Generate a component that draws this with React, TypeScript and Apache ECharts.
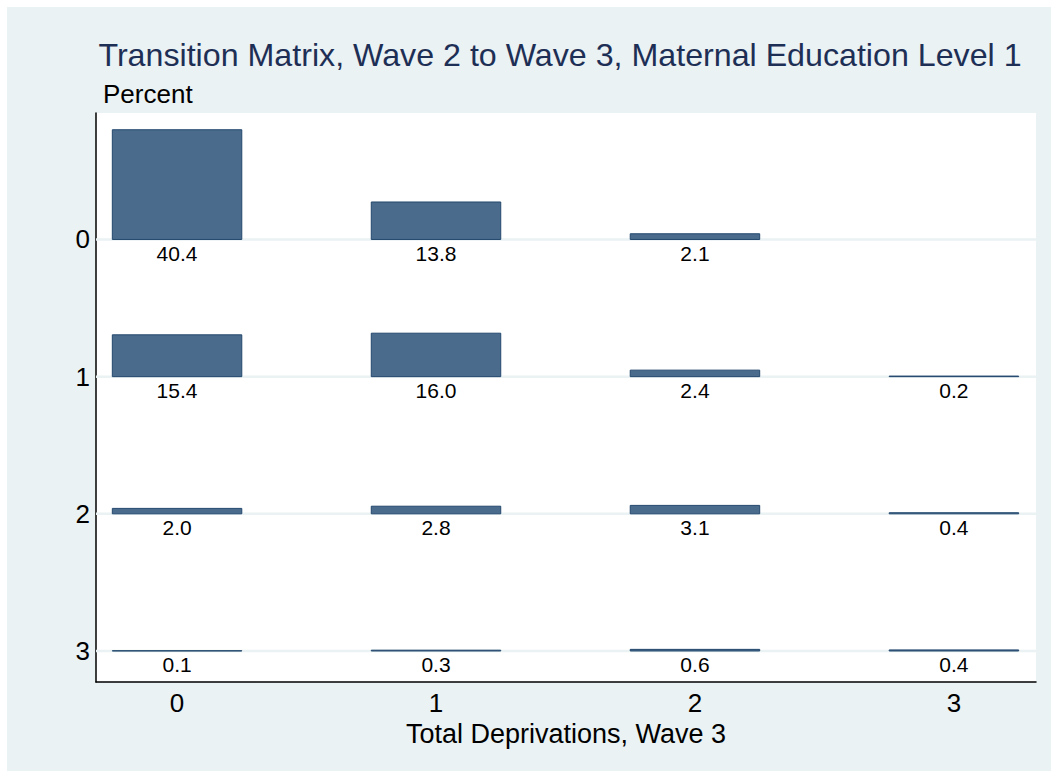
import React, { useEffect, useRef } from "react";
import * as echarts from "echarts";

const titleText = "Transition Matrix, Wave 2 to Wave 3, Maternal Education Level 1";
const yTitle = "Percent";
const xTitle = "Total Deprivations, Wave 3";
const rowTicks = [0, 1, 2, 3];
const colTicks = [0, 1, 2, 3];
// Each cell: [wave-3 column, wave-2 row, percent]
const row0 = [[0, 0, 40.4], [1, 0, 13.8], [2, 0, 2.1]];
const row1 = [[0, 1, 15.4], [1, 1, 16.0], [2, 1, 2.4], [3, 1, 0.2]];
const row2 = [[0, 2, 2.0], [1, 2, 2.8], [2, 2, 3.1], [3, 2, 0.4]];
const row3 = [[0, 3, 0.1], [1, 3, 0.3], [2, 3, 0.6], [3, 3, 0.4]];
const cells = [...row0, ...row1, ...row2, ...row3];
const maxPct = 40.4;

const FONT = "'Liberation Sans', Arial, sans-serif";

export default function App() {
  const ref = useRef<HTMLDivElement>(null);
  useEffect(() => {
    document.body.style.margin = "0";
    const chart = echarts.init(ref.current!, null, { renderer: "svg" });
    const option: any = {
      animation: false,
      backgroundColor: "#ffffff",
      graphic: [
        { type: "rect", z: -10, shape: { x: 7, y: 7, width: 1044, height: 764 }, style: { fill: "#EAF2F3" }, silent: true },
        { type: "rect", z: -9, shape: { x: 96, y: 113, width: 940, height: 569 }, style: { fill: "#ffffff" }, silent: true },
        { type: "text", x: 560, y: 55, style: { text: titleText, font: `32.2px ${FONT}`, fill: "#1E2F56", align: "center", verticalAlign: "middle" } },
        { type: "text", x: 103, y: 94, style: { text: yTitle, font: `26px ${FONT}`, fill: "#000000", align: "left", verticalAlign: "middle" } },
      ],
      grid: { left: 96, top: 113, width: 940, height: 569, containLabel: false },
      xAxis: {
        type: "value",
        min: -0.313,
        max: 3.317,
        name: xTitle,
        nameLocation: "middle",
        nameGap: 31,
        nameTextStyle: { fontFamily: FONT, fontSize: 27, color: "#000" },
        axisLine: { show: true, onZero: false, lineStyle: { color: "#000", width: 1.5 } },
        axisTick: { show: false },
        splitLine: { show: false },
        axisLabel: { customValues: colTicks, fontFamily: FONT, fontSize: 26, color: "#000", margin: 8 },
      },
      yAxis: {
        type: "value",
        inverse: true,
        min: -0.922,
        max: 3.226,
        axisLine: { show: true, onZero: false, lineStyle: { color: "#000", width: 1.5 } },
        axisTick: { show: false },
        splitLine: { show: false },
        axisLabel: { customValues: rowTicks, fontFamily: FONT, fontSize: 26, color: "#000", margin: 6 },
      },
      series: [
        {
          type: "custom",
          data: rowTicks.map((r) => [0, r]),
          z: 1,
          renderItem: (params: any, api: any) => {
            const cs = params.coordSys;
            const p = api.coord([0, api.value(1)]);
            return {
              type: "line",
              shape: { x1: cs.x, y1: p[1], x2: cs.x + cs.width, y2: p[1] },
              style: { stroke: "#EAF2F3", lineWidth: 2.5 },
            };
          },
        },
        {
          type: "custom",
          data: cells,
          z: 2,
          renderItem: (params: any, api: any) => {
            const c = api.value(0);
            const r = api.value(1);
            const v = api.value(2);
            const h = (v / maxPct) * 0.8;
            const p0 = api.coord([c - 0.25, r]);
            const p1 = api.coord([c + 0.25, r - h]);
            const pc = api.coord([c, r]);
            return {
              type: "group",
              children: [
                {
                  type: "rect",
                  shape: { x: p0[0], y: p1[1], width: p1[0] - p0[0], height: p0[1] - p1[1] },
                  style: { fill: "#4A6B8B", stroke: "#23486E", lineWidth: 1 },
                },
                {
                  type: "text",
                  x: pc[0],
                  y: pc[1] + 14,
                  style: {
                    text: v.toFixed(1),
                    font: `21px ${FONT}`,
                    fill: "#000",
                    align: "center",
                    verticalAlign: "middle",
                  },
                },
              ],
            };
          },
        },
      ],
    };
    chart.setOption(option);
    return () => chart.dispose();
  }, []);
  return <div ref={ref} style={{ width: 1055, height: 771 }} />;
}
